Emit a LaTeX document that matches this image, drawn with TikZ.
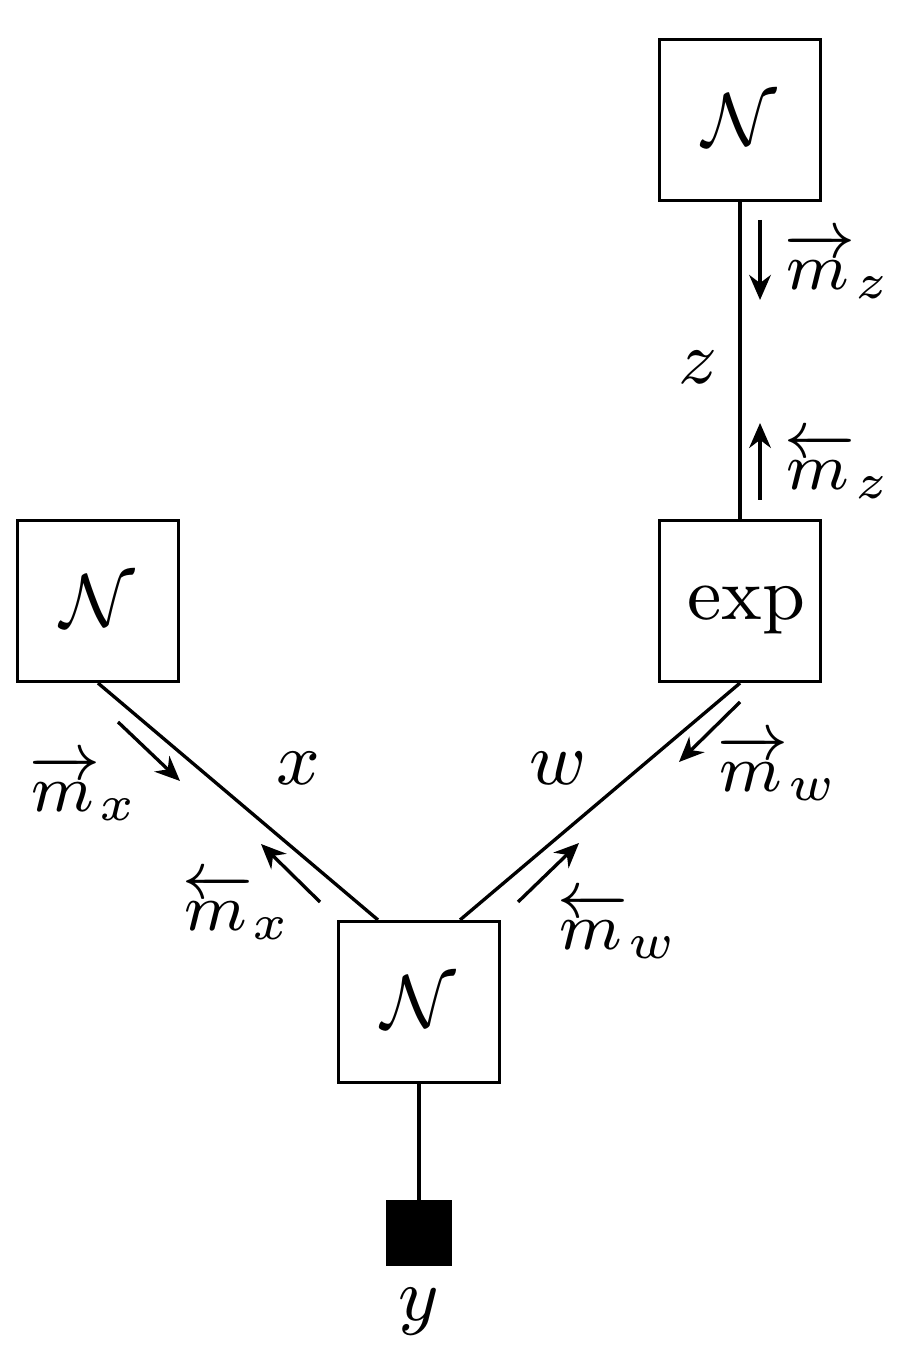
\documentclass[tikz,border=0pt]{standalone}
\usetikzlibrary{arrows.meta,calc}
\newcommand\msgR[1]{\overrightarrow{\vphantom{t}m\mkern1mu}_{#1}}
\newcommand\msgL[1]{\overleftarrow{\vphantom{t}m\mkern1mu}_{#1}}
\begin{document}
\begin{tikzpicture}[x=0.12pt,y=-0.12pt,
  font=\fontsize{9}{11}\selectfont,
  fbox/.style={draw,minimum size=19.3pt,inner sep=0pt,line width=0.4pt},
  obs/.style={draw,fill=black,minimum size=7.6pt,inner sep=0pt},
  msg/.style={-{Stealth[length=3pt,width=2.6pt]},line width=0.4pt},
  lbl/.style={inner sep=0pt},
  mlbl/.style={inner sep=0pt,font=\fontsize{8.4}{10}\selectfont}]
\useasboundingbox (0,0) rectangle (914,1358);
\node[fbox] (nz) at (740,120) {$\mathcal{N}$};
\node[fbox] (ex) at (740,601) {$\vphantom{\mathcal{N}}\exp$};
\node[fbox] (nx) at (98,601) {$\mathcal{N}$};
\node[fbox] (ny) at (419,1002) {$\mathcal{N}$};
\node[obs] (yy) at (419,1233) {};
\node[lbl] (ylab) at (419,1312) {$y$};
\draw (nz.south) -- (ex.north);
\draw (nx.south) -- ($(ny.north)!0.5!(ny.north west)$);
\draw (ex.south) -- ($(ny.north)!0.5!(ny.north east)$);
\draw (ny.south) -- (yy.north);
% variable labels
\node[lbl] (zl) at (698,367) {$z$};
\node[lbl] (xl) at (298,768) {$x$};
\node[lbl] (wl) at (558,768) {$w$};
% message arrows
\coordinate (a1s) at (760,220); \coordinate (a1e) at (760,300);
\coordinate (a2s) at (760,500); \coordinate (a2e) at (760,423);
\coordinate (a3s) at (118,722); \coordinate (a3e) at (180,781);
\coordinate (a4s) at (320,902); \coordinate (a4e) at (261,844);
\coordinate (a5s) at (740,702); \coordinate (a5e) at (679,762);
\coordinate (a6s) at (518,902); \coordinate (a6e) at (579,843);
\draw[msg] (a1s) -- (a1e);
\draw[msg] (a2s) -- (a2e);
\draw[msg] (a3s) -- (a3e);
\draw[msg] (a4s) -- (a4e);
\draw[msg] (a5s) -- (a5e);
\draw[msg] (a6s) -- (a6e);
% message labels
\node[mlbl] (mz1) at (838,265) {$\msgR{z}$};
\node[mlbl] (mz2) at (838,465) {$\msgL{z}$};
\node[mlbl] (mx1) at (84,787) {$\msgR{x}$};
\node[mlbl] (mx2) at (237,906) {$\msgL{x}$};
\node[mlbl] (mw1) at (778,767) {$\msgR{w}$};
\node[mlbl] (mw2) at (618,925) {$\msgL{w}$};
\end{tikzpicture}
\end{document}
